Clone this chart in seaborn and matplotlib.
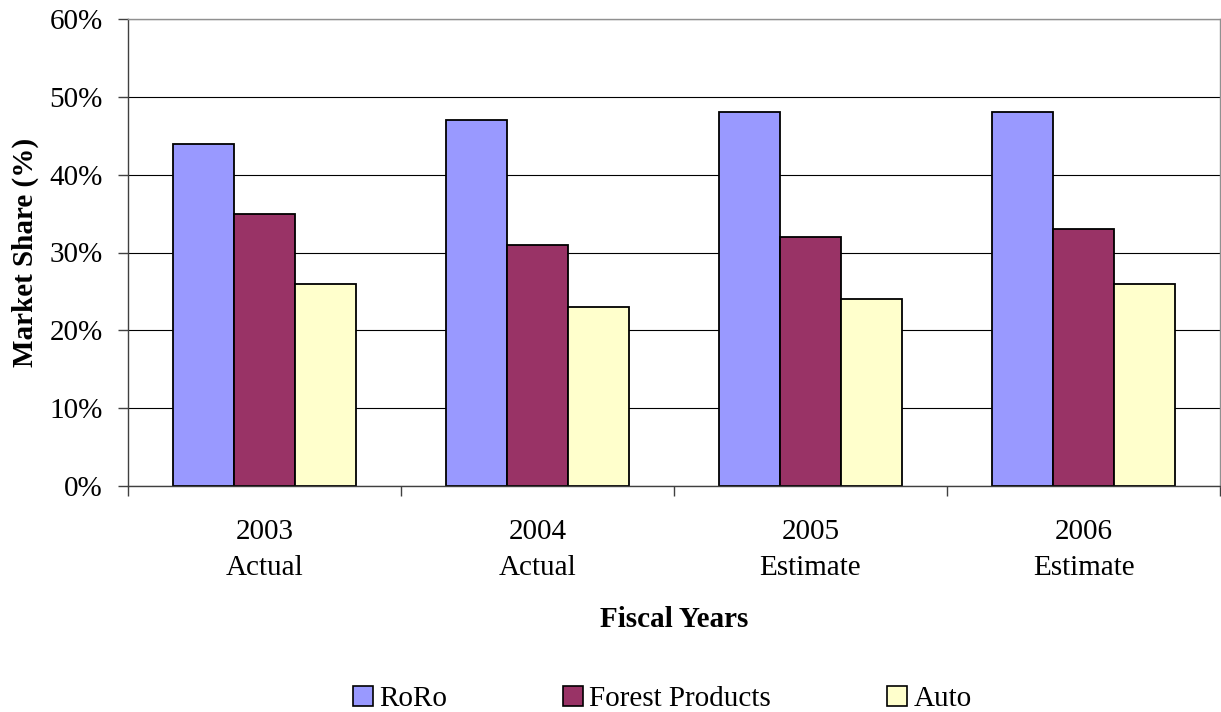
import matplotlib
matplotlib.use("Agg")
import matplotlib.pyplot as plt
import seaborn as sns
import pandas as pd
import numpy as np
from matplotlib.ticker import FixedLocator, PercentFormatter
from matplotlib.patches import Patch

categories = ["2003\nActual", "2004\nActual", "2005\nEstimate", "2006\nEstimate"]
series = ["RoRo", "Forest Products", "Auto"]
roro = [44, 47, 48, 48]
forest = [35, 31, 32, 33]
auto = [26, 23, 24, 26]
colors = ["#9999FF", "#993366", "#FFFFCC"]

rows = []
for name, vals in zip(series, [roro, forest, auto]):
    for c, v in zip(categories, vals):
        rows.append({"Year": c, "Series": name, "Share": v})
df = pd.DataFrame(rows)

sns.set_style("white")
plt.rcParams["font.family"] = ["Liberation Serif", "DejaVu Serif"]
plt.rcParams["text.color"] = "black"
plt.rcParams["axes.labelcolor"] = "black"
plt.rcParams["xtick.color"] = "black"
plt.rcParams["ytick.color"] = "black"

fig = plt.figure(figsize=(12.21, 7.12), dpi=100)
ax = fig.add_axes([128/1221, 1-486/712, (1220-128)/1221, (486-19)/712])

sns.barplot(data=df, x="Year", y="Share", hue="Series", palette=colors,
            width=0.667, edgecolor="black", linewidth=1.3, ax=ax,
            legend=False, saturation=1, errorbar=None)

ax.set_ylim(0, 60)
ax.set_xlim(-0.5, 3.5)
ax.yaxis.set_major_locator(FixedLocator(np.arange(0, 61, 10)))
ax.yaxis.set_major_formatter(PercentFormatter(decimals=0))
ax.grid(axis="y", color="black", linewidth=0.8)
ax.set_axisbelow(True)
for s in ax.spines.values():
    s.set_visible(True)
    s.set_linewidth(1.0)
ax.spines["left"].set_color("#404040")
ax.spines["bottom"].set_color("#404040")
ax.spines["top"].set_color("#909090")
ax.spines["right"].set_color("#909090")

ax.tick_params(axis="y", which="major", left=True, length=7, width=1, pad=11,
               labelsize=21, color="#404040")
ax.xaxis.set_minor_locator(FixedLocator([-0.5, 0.5, 1.5, 2.5, 3.5]))
ax.tick_params(axis="x", which="major", bottom=False, length=0, pad=24,
               labelsize=21)
ax.tick_params(axis="x", which="minor", bottom=True, length=7, width=1,
               color="#404040")
for lbl in ax.get_xticklabels():
    lbl.set_linespacing(1.5)

ax.set_xlabel("Fiscal Years", fontsize=21, fontweight="bold", labelpad=18)
ax.set_ylabel("Market Share (%)", fontsize=21, fontweight="bold", labelpad=8)

# Legend entries in Excel-like fixed slots
legend_x = [353, 563, 887]
for c, s, lx in zip(colors, series, legend_x):
    h = Patch(facecolor=c, edgecolor="black", linewidth=1.2, label=s)
    fig.legend(handles=[h], loc="center left",
               bbox_to_anchor=(lx/1221, 1-699/712),
               frameon=False, fontsize=21, handlelength=0.7,
               handleheight=0.7, handletextpad=0.2,
               borderpad=0, borderaxespad=0)

fig.savefig("out.png", dpi=100)
